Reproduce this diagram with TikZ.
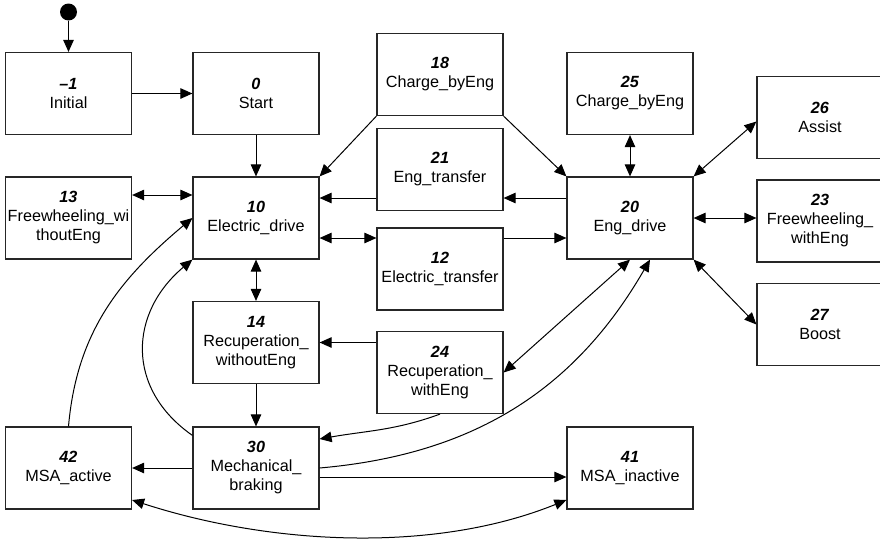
\documentclass[tikz,border=0pt]{standalone}
\usepackage{fontspec}
\setmainfont{Liberation Sans}
\usetikzlibrary{arrows.meta}
\newcommand{\stnum}[1]{\textbf{\textit{#1}}}

\begin{document}
\begin{tikzpicture}[x=1pt,y=-1pt,line width=1pt,
                >={Triangle[length=12pt,width=10.5pt]},
                state/.style={draw=black!85,line width=1.2pt,minimum width=126pt,minimum height=82pt,
                  inner sep=0pt,align=center,font=\fontsize{16.2}{19}\selectfont}]
                \useasboundingbox (0,0) rectangle (880,541);
                \clip (0,0) rectangle (880,541);
                % states
                \node[circle,fill,inner sep=0pt,minimum size=17pt] (dot) at (68.5,12) {};
                \node[state] (init) at (68.5,93.5) {\stnum{\textendash1}\\Initial};
                \node[state] (start) at (256,93.5) {\stnum{0}\\Start};
                \node[state] (ch18) at (440,74.5) {\stnum{18}\\Charge\_byEng};
                \node[state] (ch25) at (630,93.5) {\stnum{25}\\Charge\_byEng};
                \node[state] (assist26) at (820,117.5) {\stnum{26}\\Assist};
                \node[state] (eng21) at (440,169.5) {\stnum{21}\\Eng\_transfer};
                \node[state] (fw13) at (68.5,218) {\stnum{13}\\Freewheeling\_wi\\thoutEng};
                \node[state] (ed10) at (256,218) {\stnum{10}\\Electric\_drive};
                \node[state] (ed20) at (630,218) {\stnum{20}\\Eng\_drive};
                \node[state] (fw23) at (820,221) {\stnum{23}\\Freewheeling\_\\withEng};
                \node[state] (et12) at (440,269) {\stnum{12}\\Electric\_transfer};
                \node[state] (boost27) at (820,324.5) {\stnum{27}\\Boost};
                \node[state] (rec14) at (256,342.5) {\stnum{14}\\Recuperation\_\\withoutEng};
                \node[state] (rec24) at (440,372.5) {\stnum{24}\\Recuperation\_\\withEng};
                \node[state] (msa42) at (68.5,468) {\stnum{42}\\MSA\_active};
                \node[state] (mb30) at (256,468) {\stnum{30}\\Mechanical\_\\braking};
                \node[state] (msa41) at (630,468) {\stnum{41}\\MSA\_inactive};
                % transitions
                \draw[->] (dot) -- (init);
                \draw[->] (init) -- (start);
                \draw[->] (start) -- (ed10);
                \draw[<->] ([yshift=23pt]fw13.east) -- ([yshift=23pt]ed10.west);
                \draw[->] (ch18.south west) -- (ed10.north east);
                \draw[->] (ch18.south east) -- (ed20.north west);
                \draw[->] ([yshift=20pt]ed20.west) -- ([yshift=20pt]ed20.west -| eng21.east);
                \draw[->] ([yshift=20pt]ed10.east -| eng21.west) -- ([yshift=20pt]ed10.east);
                \draw[<->] ([yshift=-20pt]ed10.east) -- ([yshift=-20pt]ed10.east -| et12.west);
                \draw[->] ([yshift=-20pt]ed20.west -| et12.east) -- ([yshift=-20pt]ed20.west);
                \draw[<->] (ch25) -- (ed20);
                \draw[<->] (ed20.north east) -- ([yshift=-4pt]assist26.west);
                \draw[<->] (ed20.east) -- (ed20.east -| fw23.west);
                \draw[<->] (ed20.south east) -- (boost27.west);
                \draw[<->] (ed10) -- (rec14);
                \draw[->] (rec24.west |- rec14.east) -- (rec14.east);
                \draw[->] (rec14) -- (mb30);
                \draw[<->] (ed20.south) -- (rec24.east);
                \draw[->] (mb30.east) to[out=5,in=-120] ([xshift=20pt]ed20.south);
                \draw[->] (rec24.south) to[out=-160,in=10] ([yshift=29pt]mb30.east);
                \draw[->] ([yshift=-9pt]mb30.east) -- ([yshift=-9pt]msa41.west);
                \draw[->] (mb30) -- (msa42);
                \draw[<->] ([yshift=-32pt]msa42.east) to[out=-18,in=-158,looseness=.85] ([yshift=-32pt]msa41.west);
                \draw[->] (msa42.north) to[out=85,in=-140] (ed10.west);
                \draw[->] ([yshift=-9pt]mb30.north west) to[out=145,in=-140,looseness=1.2] (ed10.south west);
            \end{tikzpicture}
\end{document}
